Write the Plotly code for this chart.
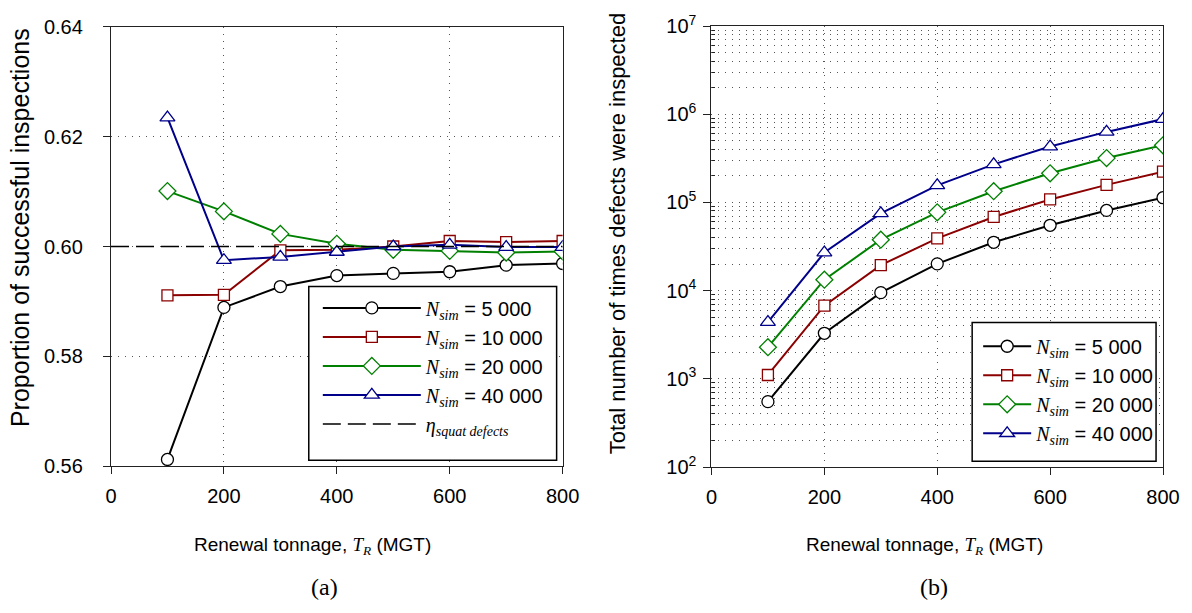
import plotly.graph_objects as go

# Renewal tonnage T_R (MGT)
tonnage = [100, 200, 300, 400, 500, 600, 700, 800]
nsim_labels = ["5 000", "10 000", "20 000", "40 000"]

# (a) proportion of successful inspections
prop_5k = [0.5612, 0.5889, 0.5927, 0.5947, 0.5951, 0.5954, 0.5966, 0.5969]
prop_10k = [0.5911, 0.5912, 0.5993, 0.5994, 0.6000, 0.6010, 0.6008, 0.6010]
prop_20k = [0.6101, 0.6064, 0.6023, 0.6005, 0.5994, 0.5992, 0.5989, 0.5991]
prop_40k = [0.6235, 0.5975, 0.5981, 0.5990, 0.6000, 0.6003, 0.5999, 0.5999]
eta_squat = 0.60

# (b) total number of times defects were inspected
count_5k = [551, 3280, 9480, 20100, 35300, 55000, 81100, 113000]
count_10k = [1105, 6740, 19400, 39100, 68400, 108000, 158000, 223000]
count_20k = [2280, 13300, 37800, 77100, 134000, 214000, 318000, 444000]
count_40k = [4400, 27000, 75000, 156000, 270000, 430000, 630000, 880000]

x_range = [0, 800]
x_ticks = [0, 200, 400, 600, 800]

styles = [
    dict(color="#000000", symbol="circle", size=12),
    dict(color="#8B0000", symbol="square", size=11),
    dict(color="#008000", symbol="diamond", size=13),
    dict(color="#00008B", symbol="triangle-up", size=13),
]

SERIF = "Liberation Serif, Times New Roman, serif"
SANS = "Liberation Sans, Arial, sans-serif"


def nsim_name(label):
    return (f'<span style="font-family:{SERIF}"><i>N</i><sub><i>sim</i></sub></span>'
            f' = {label}')


fig = go.Figure()

for vals, st, lab in zip([prop_5k, prop_10k, prop_20k, prop_40k], styles, nsim_labels):
    fig.add_trace(go.Scatter(
        x=tonnage, y=vals, mode="lines+markers", name=nsim_name(lab),
        xaxis="x", yaxis="y", legend="legend", legendgroup="nsim",
        line=dict(color=st["color"], width=2),
        marker=dict(symbol=st["symbol"], size=st["size"], color="white",
                    line=dict(color=st["color"], width=1.3)),
    ))

fig.add_trace(go.Scatter(
    x=x_range, y=[eta_squat, eta_squat], mode="lines",
    name=f'<span style="font-family:{SERIF}"><i>η</i><sub><i>squat defects</i></sub></span>',
    xaxis="x", yaxis="y", legend="legend", legendgroup="eta",
    line=dict(color="black", width=1.5, dash="18px,7px"),
))

for vals, st, lab in zip([count_5k, count_10k, count_20k, count_40k], styles, nsim_labels):
    fig.add_trace(go.Scatter(
        x=tonnage, y=vals, mode="lines+markers", name=nsim_name(lab),
        xaxis="x2", yaxis="y2", legend="legend2",
        line=dict(color=st["color"], width=2),
        marker=dict(symbol=st["symbol"], size=st["size"], color="white",
                    line=dict(color=st["color"], width=1.3)),
    ))

grid = dict(showgrid=True, gridcolor="#555555", gridwidth=1, griddash="1px,6px")
axis_common = dict(showline=True, mirror=True, linecolor="#222222", linewidth=1.3,
                   ticks="outside", ticklen=7, tickwidth=1, tickcolor="#222222",
                   zeroline=False, tickfont=dict(size=20))

minor_log = [m * 10 ** k for k in range(2, 7) for m in range(2, 10)]

fig.update_layout(
    width=1192, height=613,
    margin=dict(l=111, r=28, t=15, b=146),
    paper_bgcolor="white", plot_bgcolor="white",
    font=dict(family=SANS, size=18, color="black"),
    xaxis=dict(domain=[0, 0.4293], range=x_range, tickvals=x_ticks, anchor="y",
               ticklabelstandoff=5, **axis_common, **grid),
    yaxis=dict(domain=[0.0022, 0.9978], range=[0.56, 0.64],
               tickvals=[0.56, 0.58, 0.60, 0.62, 0.64], tickformat=".2f", anchor="x",
               ticklabelstandoff=16, **axis_common, **grid),
    xaxis2=dict(domain=[0.5708, 1], range=x_range, tickvals=x_ticks, anchor="y2",
                ticklabelstandoff=5, **axis_common, **grid),
    yaxis2=dict(domain=[0, 1], type="log", range=[2, 7], anchor="x2",
                tickvals=[1e2, 1e3, 1e4, 1e5, 1e6, 1e7],
                ticktext=[f"10<sup>{k}</sup>" for k in range(2, 8)],
                ticklabelstandoff=3,
                minor=dict(tickvals=minor_log, ticks="inside", ticklen=3, tickcolor="#222222",
                           showgrid=True, gridcolor="#555555", griddash="1px,6px"),
                **axis_common, **grid),
    legend=dict(x=0.1966, y=0.405, xanchor="left", yanchor="top",
                borderwidth=0, bgcolor="rgba(0,0,0,0)",
                font=dict(size=20), itemwidth=98, tracegroupgap=0,
                traceorder="grouped"),
    legend2=dict(x=0.8243, y=0.318, xanchor="left", yanchor="top",
                 borderwidth=0, bgcolor="rgba(0,0,0,0)",
                 font=dict(size=20), itemwidth=48, tracegroupgap=0),
    showlegend=True,
)

# legend frames (white boxes with black border)
for x0, x1, y0, y1 in [(0.188, 0.4236, 0.0155, 0.4093), (0.8186, 0.9934, 0.0133, 0.3274)]:
    fig.add_shape(type="rect", xref="paper", yref="paper", x0=x0, x1=x1, y0=y0, y1=y1,
                  line=dict(color="black", width=1.5), fillcolor="white", layer="above")

xtitle = f'Renewal tonnage, <span style="font-family:{SERIF}"><i>T</i><sub><i>R</i></sub></span> (MGT)'
annotations = [
    dict(text=xtitle, x=0.1918, y=-0.179, font=dict(size=19)),
    dict(text=xtitle, x=0.773, y=-0.179, font=dict(size=19)),
    dict(text="Proportion of successful inspections", x=-0.0864, y=0.542,
         textangle=-90, font=dict(size=25)),
    dict(text="Total number of times defects were inspected", x=0.4815, y=0.529,
         textangle=-90, font=dict(size=22)),
    dict(text="(a)", x=0.2032, y=-0.272, font=dict(size=24, family=SERIF)),
    dict(text="(b)", x=0.7825, y=-0.272, font=dict(size=24, family=SERIF)),
]
for a in annotations:
    fig.add_annotation(xref="paper", yref="paper", showarrow=False,
                       xanchor="center", yanchor="middle", **a)

fig.write_html("out.html")
